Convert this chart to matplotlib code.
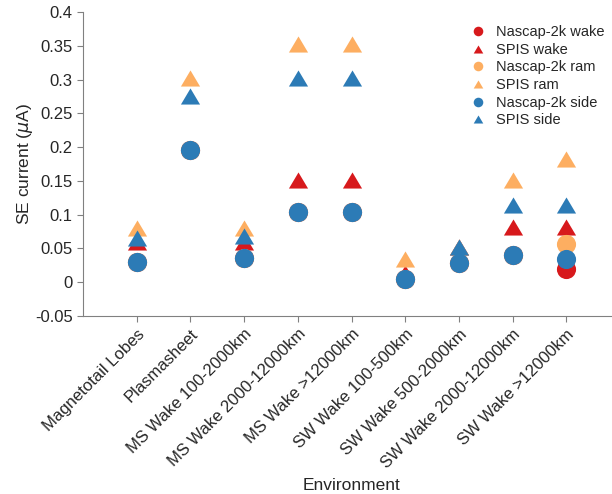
import matplotlib
matplotlib.use("Agg")
import matplotlib.pyplot as plt
import numpy as np

plt.rcParams['font.family'] = ['Liberation Sans', 'DejaVu Sans']
plt.rcParams['mathtext.fontset'] = 'dejavusans'

environments = [
    "Magnetotail Lobes", "Plasmasheet", "MS Wake 100-2000km",
    "MS Wake 2000-12000km", "MS Wake >12000km", "SW Wake 100-500km",
    "SW Wake 500-2000km", "SW Wake 2000-12000km", "SW Wake >12000km",
]

nascap_wake = [0.030, 0.195, 0.036, 0.104, 0.104, 0.005, 0.028, 0.040, 0.019]
spis_wake   = [0.060, np.nan, 0.059, 0.152, 0.152, 0.014, 0.052, 0.082, 0.082]
nascap_ram  = [0.030, 0.195, 0.036, 0.104, 0.104, 0.005, 0.028, 0.040, 0.056]
spis_ram    = [0.081, 0.302, 0.081, 0.352, 0.352, 0.034, 0.052, 0.152, 0.183]
nascap_side = [0.030, 0.195, 0.036, 0.104, 0.104, 0.005, 0.028, 0.040, 0.035]
spis_side   = [0.065, 0.276, 0.068, 0.302, 0.302, np.nan, 0.052, 0.115, 0.115]

red = '#d7191c'
orange = '#fdae61'
blue = '#2c7bb6'
text_col = '#262626'
axis_col = '#808080'

# slightly flattened upward triangle (wider than tall)
tri = [(-1.0, -0.84), (1.0, -0.84), (0.0, 0.84), (-1.0, -0.84)]

fig = plt.figure(figsize=(6.12, 4.94), dpi=100)
ax = fig.add_axes([83/612, 1 - 316/494, 537/612, 304/494])

x = np.arange(1, len(environments) + 1)
series = [
    (nascap_wake, red, 'o', 'Nascap-2k wake'),
    (spis_wake, red, tri, 'SPIS wake'),
    (nascap_ram, orange, 'o', 'Nascap-2k ram'),
    (spis_ram, orange, tri, 'SPIS ram'),
    (nascap_side, blue, 'o', 'Nascap-2k side'),
    (spis_side, blue, tri, 'SPIS side'),
]
for vals, col, mk, lab in series:
    ax.plot(x, vals, linestyle='none', marker=mk, color=col,
            markersize=13.8, markeredgewidth=0, label=lab)

ax.set_xlim(0, 10)
ax.set_ylim(-0.05, 0.4)
ax.set_yticks(np.arange(-0.05, 0.401, 0.05))
ax.set_yticklabels(['-0.05', '0', '0.05', '0.1', '0.15', '0.2', '0.25',
                    '0.3', '0.35', '0.4'])
ax.set_xticks(x)
ax.set_xticklabels(environments, rotation=45, ha='right',
                   rotation_mode='anchor')

for s in ('top', 'right'):
    ax.spines[s].set_visible(False)
for s in ('left', 'bottom'):
    ax.spines[s].set_color(axis_col)
    ax.spines[s].set_linewidth(0.8)
ax.tick_params(direction='out', length=4, width=0.8, color=axis_col,
               labelcolor=text_col, labelsize=12)

ax.set_ylabel(r'SE current ($\mu$A)', fontsize=12.5, color=text_col,
              labelpad=0)
ax.set_xlabel('Environment', fontsize=12.5, color=text_col, labelpad=5)

leg = ax.legend(loc='upper right', bbox_to_anchor=(0.995, 1.0),
                frameon=False, fontsize=10.5, markerscale=0.5,
                handlelength=1.2, handletextpad=0.6, labelspacing=0.25)
for t in leg.get_texts():
    t.set_color(text_col)

fig.savefig('out.png', dpi=100)
